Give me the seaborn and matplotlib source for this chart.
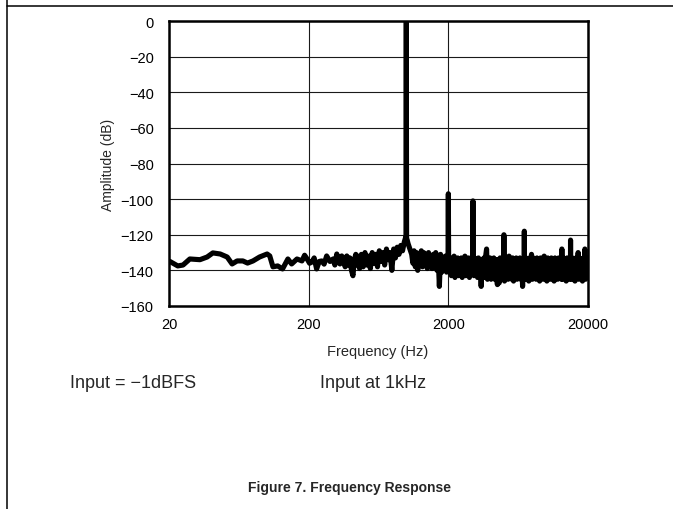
import matplotlib
matplotlib.use("Agg")
import matplotlib.pyplot as plt
from matplotlib.lines import Line2D
import seaborn as sns
import pandas as pd

# ---- data ----
freq_low = [20.3, 23.1, 25.2, 28.2, 33.3, 37.5, 41.2, 46.5, 52.2, 56.6, 61.5, 67.6,
            73.0, 79.9, 89.0, 100.8, 105.3, 111, 120, 130, 142, 151, 165, 179, 187,
            195, 203, 211, 219, 228, 238, 248, 258, 269, 284, 299, 308, 318, 326,
            335, 345, 355, 365, 375, 385, 395, 405, 415, 425, 435, 443]
amp_low = [-135, -137.5, -137, -133.6, -134, -132.5, -130.2, -130.8, -132.5, -136.4,
           -134.7, -134.7, -135.9, -134.7, -132.5, -130.8, -131.9, -138, -137.5,
           -139.2, -133.6, -136.4, -133.6, -134.7, -131.5, -133.6, -136, -135.3,
           -133, -139.2, -135, -134.7, -136.5, -131.9, -135, -133.6, -137, -130.8,
           -134, -136.4, -131.9, -134, -138, -131.9, -137, -133, -140, -143, -134,
           -131, -137]

freq_mid = [450, 463, 477, 491, 506, 521, 537, 553, 570, 587, 604, 622, 641, 660,
            680, 700, 721, 743, 765, 788, 812, 836, 861, 887, 913, 940, 968, 985,
            995, 1000, 1005, 1015,
            1030, 1050, 1071, 1093, 1115, 1137, 1160, 1183, 1207, 1231, 1256, 1281,
            1307, 1333, 1360, 1387, 1415, 1443, 1472, 1501, 1531, 1562, 1593, 1625,
            1658, 1691, 1725, 1759, 1794, 1830, 1867, 1904, 1942, 1975, 1990, 2000,
            2010]
amp_mid = [-132, -139, -131, -138, -130, -137, -132, -139, -130, -136, -131, -138,
           -129, -135, -130, -137, -128, -134, -130, -140, -128, -133, -127, -131,
           -126, -129, -124, -122, -122, 0, -122, -123,
           -125, -127, -129, -131, -136, -129, -138, -130, -140, -131, -137, -129,
           -138, -130, -137, -131, -139, -130, -137, -132, -139, -131, -138, -130,
           -140, -132, -149, -131, -141, -133, -138, -132, -141, -134, -134, -97,
           -134]

freq_high = [2040, 2071, 2102, 2133, 2166, 2198, 2231, 2265, 2299, 2333, 2368, 2404,
             2440, 2476, 2514, 2551, 2590, 2629, 2668, 2708, 2749, 2790, 2832, 2874,
             2917, 2955, 2990, 3000, 3010,
             3050, 3096, 3142, 3189, 3237, 3286, 3335, 3385, 3436, 3487, 3540, 3593,
             3647, 3701, 3757, 3813, 3870, 3928, 3987, 4047, 4108, 4170, 4232, 4296,
             4360, 4426, 4492, 4559, 4628, 4697, 4768, 4839, 4912, 4960, 4990, 5000,
             5010,
             5050, 5126, 5203, 5281, 5360, 5440, 5522, 5605, 5689, 5774, 5861, 5949,
             6038, 6129, 6221, 6314, 6409, 6505, 6602, 6701, 6802, 6900, 6990, 7000,
             7010,
             7100, 7207, 7315, 7424, 7536, 7649, 7764, 7880, 7998, 8118, 8240, 8364,
             8489, 8617, 8746, 8877, 9010, 9145, 9283, 9422, 9563, 9707, 9852, 10000,
             10150, 10302, 10457, 10614, 10773, 10935, 11099, 11265, 11434, 11606,
             11780, 11957, 12136, 12318, 12503, 12690, 12880, 12990, 13000, 13010,
             13150, 13347, 13547, 13750, 13957, 14166, 14379, 14594, 14800, 14990,
             15000, 15010,
             15200, 15428, 15660, 15895, 16133, 16375, 16621, 16850, 16990, 17000,
             17010,
             17200, 17458, 17720, 17986, 18255, 18529, 18800, 18990, 19000, 19010,
             19200, 19488, 19780, 20000]
amp_high = [-141, -133, -143, -134, -142, -132, -144, -134, -141, -133, -143, -135,
            -142, -133, -144, -134, -141, -132, -143, -134, -142, -133, -144, -135,
            -142, -134, -135, -101, -135,
            -143, -133, -142, -134, -144, -133, -143, -135, -149, -134, -143, -133,
            -144, -132, -128, -145, -134, -143, -133, -145, -134, -143, -133, -145,
            -134, -144, -148, -134, -147, -133, -144, -134, -145, -134, -135, -120,
            -135,
            -146, -134, -144, -133, -145, -132, -144, -134, -145, -133, -146, -134,
            -144, -133, -145, -134, -144, -133, -145, -134, -149, -134, -135, -118,
            -134,
            -145, -133, -144, -134, -146, -133, -144, -131, -145, -133, -144, -134,
            -145, -133, -144, -134, -146, -133, -144, -134, -145, -132, -144, -134,
            -146, -133, -144, -134, -145, -133, -144, -134, -146, -133,
            -144, -134, -145, -133, -144, -134, -145, -134, -128, -134,
            -145, -133, -144, -134, -146, -133, -144, -134, -145, -134,
            -123, -134,
            -145, -133, -144, -134, -146, -133, -144, -134, -134, -130,
            -135,
            -145, -133, -144, -134, -146, -133, -144, -133, -128, -134,
            -145, -133, -144, -138]

assert len(freq_low) == len(amp_low)
assert len(freq_mid) == len(amp_mid)
assert len(freq_high) == len(amp_high)

y_ticks = [0, -20, -40, -60, -80, -100, -120, -140, -160]
x_ticks = [20, 200, 2000, 20000]
x_tick_labels = ["20", "200", "2000", "20000"]

df = pd.DataFrame({"Frequency": freq_low + freq_mid + freq_high,
                   "Amplitude": amp_low + amp_mid + amp_high})

# ---- style ----
sns.set_style("white")
plt.rcParams["font.family"] = ["Liberation Sans", "DejaVu Sans"]

fig = plt.figure(figsize=(6.73, 5.10), dpi=100)
ax = fig.add_axes([169 / 673, 1 - 307 / 510, (588 - 169) / 673, (307 - 22) / 510])

sns.lineplot(data=df, x="Frequency", y="Amplitude", ax=ax, sort=False,
             estimator=None, color="black", linewidth=3.7,
             solid_joinstyle="round", zorder=3)

ax.set_xscale("log")
ax.set_xlim(20, 20000)
ax.set_ylim(-160, 0)
ax.set_xticks(x_ticks)
ax.set_xticklabels(x_tick_labels)
ax.minorticks_off()
ax.set_yticks(y_ticks)
ax.set_yticklabels([("\u2212" + str(-v)) if v < 0 else str(v) for v in y_ticks])
ax.tick_params(axis="both", length=0, labelsize=10.5, colors="black")
ax.tick_params(axis="y", pad=11)
ax.tick_params(axis="x", pad=8)

ax.grid(True, which="major", color="#1a1a1a", linewidth=0.8, zorder=1)
for s in ax.spines.values():
    s.set_color("black")
    s.set_linewidth(1.8)
    s.set_zorder(5)

ax.set_xlabel("Frequency (Hz)", fontsize=10.5)
ax.set_ylabel("Amplitude (dB)", fontsize=10)
ax.xaxis.set_label_coords(0.499, -0.133)
ax.yaxis.set_label_coords(-0.129, 0.5)

fig.text(70 / 673, 1 - 384 / 510, "Input = \u22121dBFS", fontsize=13,
         ha="left", va="center")
fig.text(320 / 673, 1 - 384 / 510, "Input at 1kHz", fontsize=13,
         ha="left", va="center")
fig.text(350 / 673, 1 - 488 / 510, "Figure 7. Frequency Response", fontsize=10,
         fontweight="bold", ha="center", va="center")

# page frame lines
fig.add_artist(Line2D([7 / 673, 1], [1 - 7 / 510, 1 - 7 / 510], color="black",
                      linewidth=1.1, transform=fig.transFigure))
fig.add_artist(Line2D([7 / 673, 7 / 673], [0, 1], color="black",
                      linewidth=1.1, transform=fig.transFigure))

fig.savefig("out.png", dpi=100)
